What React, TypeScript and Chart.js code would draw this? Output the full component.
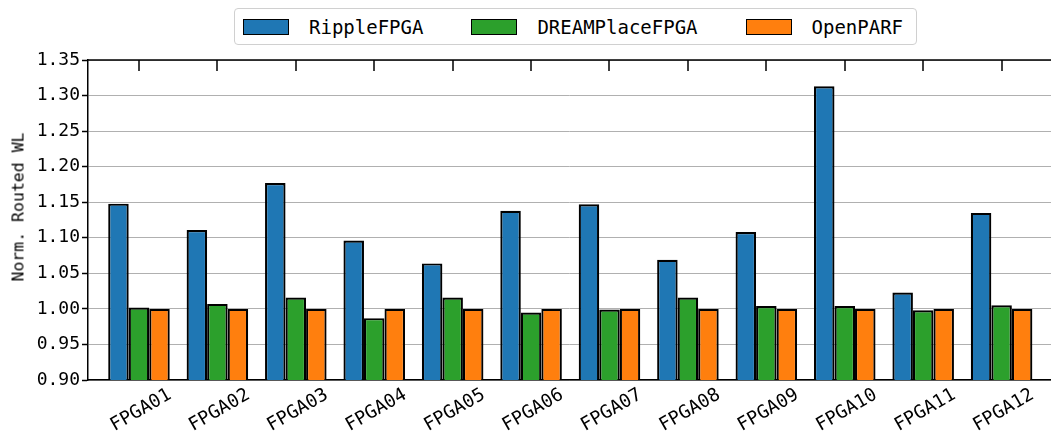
import React, { useEffect, useRef } from 'react';
import { Chart, registerables } from 'chart.js';

Chart.register(...registerables);

const categories = ['FPGA01', 'FPGA02', 'FPGA03', 'FPGA04', 'FPGA05', 'FPGA06', 'FPGA07', 'FPGA08', 'FPGA09', 'FPGA10', 'FPGA11', 'FPGA12'];
const rippleFPGA = [1.148, 1.111, 1.177, 1.096, 1.064, 1.138, 1.147, 1.069, 1.108, 1.313, 1.023, 1.135];
const dreamPlaceFPGA = [1.002, 1.007, 1.016, 0.987, 1.016, 0.995, 0.999, 1.016, 1.004, 1.004, 0.998, 1.005];
const openPARF = [1.0, 1.0, 1.0, 1.0, 1.0, 1.0, 1.0, 1.0, 1.0, 1.0, 1.0, 1.0];
const seriesNames = ['RippleFPGA', 'DREAMPlaceFPGA', 'OpenPARF'];
const seriesColors = ['#1f77b4', '#2ca02c', '#ff7f0e'];
const yTickValues = [0.9, 0.95, 1.0, 1.05, 1.1, 1.15, 1.2, 1.25, 1.3, 1.35];
const yAxisTitle = 'Norm. Routed WL';

const FONT = "'DejaVu Sans Mono', 'Liberation Mono', monospace";

const topAxisPlugin = {
  id: 'topAxis',
  afterDraw(chart: any) {
    const { ctx, chartArea, scales } = chart;
    const xs = scales.x;
    ctx.save();
    ctx.strokeStyle = '#000';
    ctx.lineWidth = 1.5;
    ctx.beginPath();
    ctx.moveTo(chartArea.left - 0.75, chartArea.top);
    ctx.lineTo(chartArea.right, chartArea.top);
    categories.forEach((_, i) => {
      const px = Math.round(xs.getPixelForValue(i));
      ctx.moveTo(px, chartArea.top);
      ctx.lineTo(px, chartArea.top + 11);
    });
    ctx.stroke();
    ctx.restore();
  },
};

export default function App() {
  const canvasRef = useRef<HTMLCanvasElement | null>(null);

  useEffect(() => {
    document.body.style.margin = '0';
    const canvas = canvasRef.current;
    if (!canvas) return;
    const seriesData = [rippleFPGA, dreamPlaceFPGA, openPARF];
    const chart = new Chart(canvas, {
      type: 'bar',
      data: {
        datasets: seriesData.map((vals, k) => ({
          label: seriesNames[k],
          data: vals.map((y, i) => ({ x: i, y })),
          backgroundColor: seriesColors[k],
          borderColor: '#000',
          borderWidth: 2.2,
          categoryPercentage: 0.785,
          barPercentage: 1.0,
        })),
      },
      options: {
        animation: false,
        responsive: false,
        devicePixelRatio: 1,
        layout: { padding: { top: 60, left: 0, right: 0, bottom: 0 } },
        plugins: { legend: { display: false }, tooltip: { enabled: false } },
        scales: {
          x: {
            type: 'linear',
            min: -0.65,
            max: 11.63,
            offset: false,
            z: 1,
            afterBuildTicks: (s: any) => {
              s.ticks = categories.map((_, i) => ({ value: i }));
            },
            afterFit: (s: any) => {
              s.height = 51;
            },
            grid: { display: false, drawTicks: false },
            border: { display: true, color: '#000', width: 1.5 },
            ticks: {
              autoSkip: false,
              minRotation: 30,
              maxRotation: 30,
              labelOffset: 31,
              padding: 4,
              color: '#000',
              font: { family: FONT, size: 18.5 },
              callback: (v: any) => categories[Math.round(Number(v))] ?? '',
            },
          },
          y: {
            min: 0.9,
            max: 1.35,
            afterBuildTicks: (s: any) => {
              s.ticks = yTickValues.map((v) => ({ value: v }));
            },
            afterFit: (s: any) => {
              s.width = 88;
            },
            grid: { color: '#b0b0b0', lineWidth: 1, tickColor: '#000', tickLength: 6, tickWidth: 1.5 },
            border: { color: '#000', width: 1.5 },
            ticks: {
              color: '#000',
              padding: 2,
              font: { family: FONT, size: 18 },
              callback: (v: any) => Number(v).toFixed(2),
            },
            title: { display: false },
          },
        },
      },
      plugins: [topAxisPlugin],
    } as any);
    return () => chart.destroy();
  }, []);

  return (
    <div style={{ position: 'relative', width: 1051, height: 431, overflow: 'hidden', background: '#fff' }}>
      <canvas ref={canvasRef} width={1051} height={431} style={{ display: 'block' }} />
      <div
        style={{
          position: 'absolute',
          left: 18,
          top: 207,
          transform: 'translate(-50%, -50%) rotate(-90deg)',
          fontFamily: FONT,
          fontSize: 16.5,
          color: '#000',
          whiteSpace: 'nowrap',
        }}
      >
        {yAxisTitle}
      </div>
      <div
        style={{
          position: 'absolute',
          left: 234,
          top: 8,
          width: 683,
          height: 37,
          boxSizing: 'border-box',
          border: '1px solid #d0d0d0',
          borderRadius: 4,
          display: 'flex',
          alignItems: 'center',
          paddingLeft: 8,
          fontFamily: FONT,
          fontSize: 19,
          color: '#000',
          background: '#fff',
        }}
      >
        {seriesNames.map((name, k) => (
          <div key={name} style={{ display: 'flex', alignItems: 'center', marginRight: k < 2 ? 48 : 0 }}>
            <div
              style={{
                width: 46,
                height: 16,
                boxSizing: 'border-box',
                border: '1.5px solid #000',
                background: seriesColors[k],
                marginRight: 20,
              }}
            />
            <span style={{ whiteSpace: 'nowrap' }}>{name}</span>
          </div>
        ))}
      </div>
    </div>
  );
}
